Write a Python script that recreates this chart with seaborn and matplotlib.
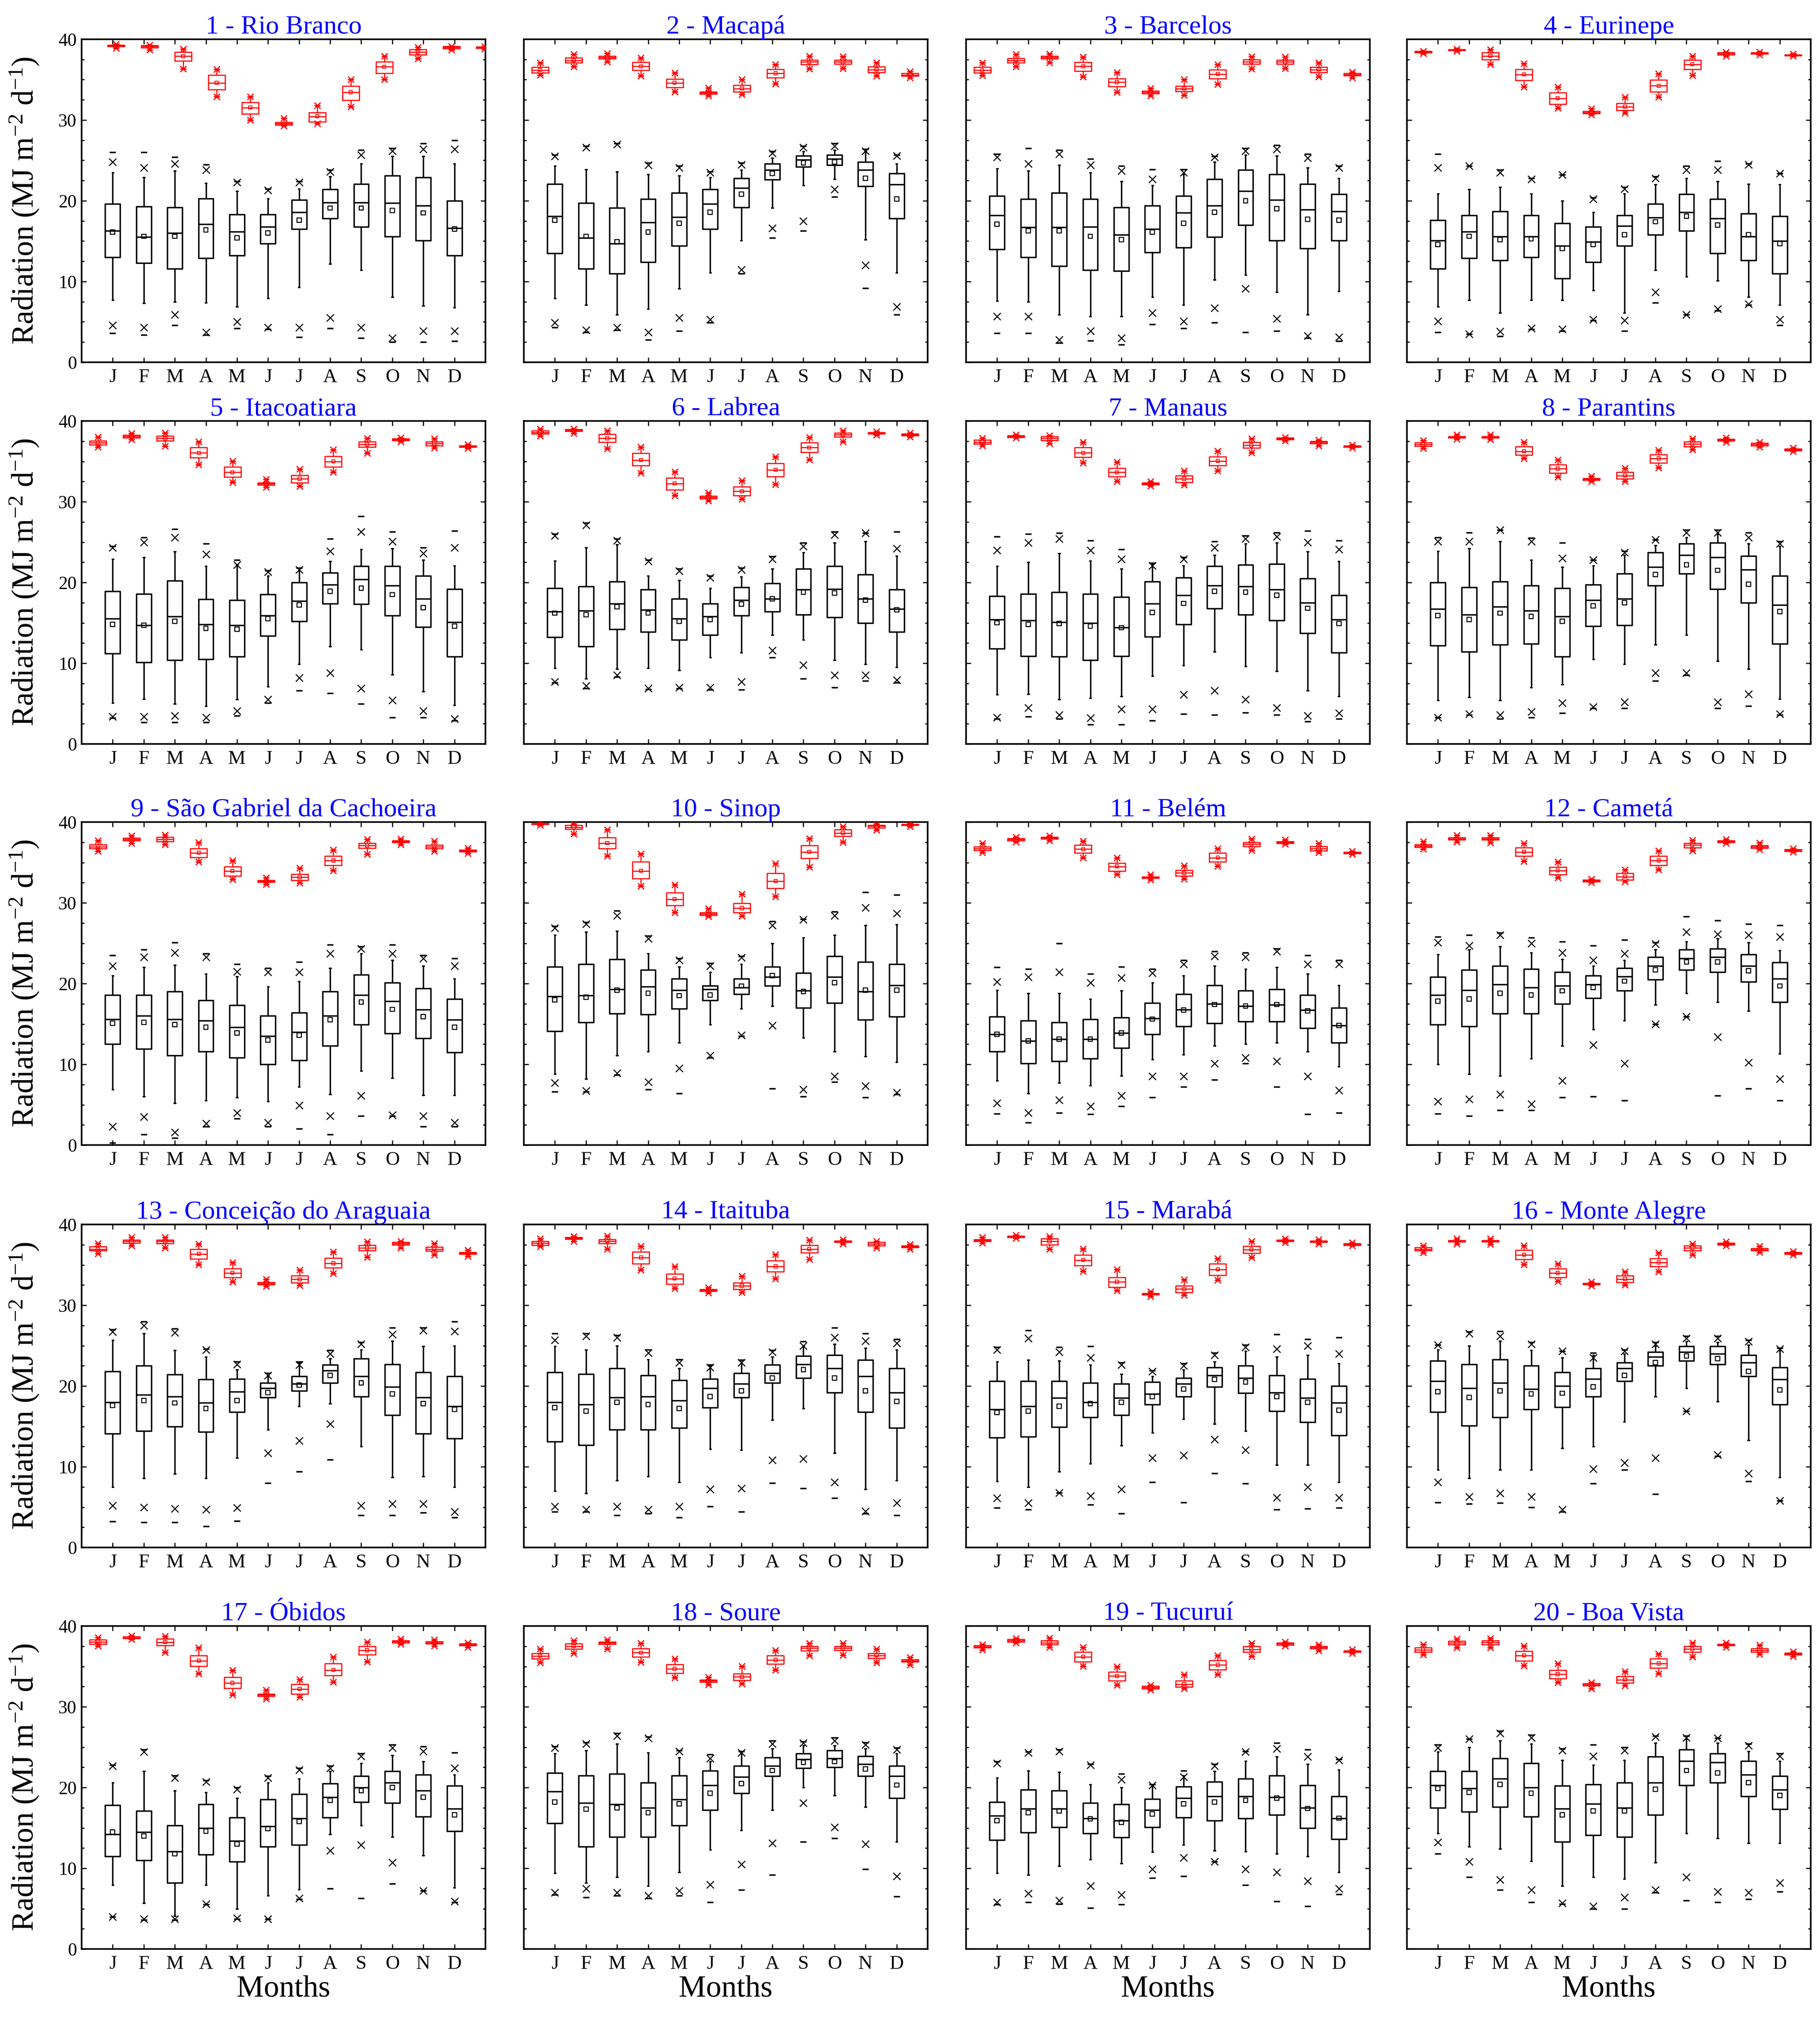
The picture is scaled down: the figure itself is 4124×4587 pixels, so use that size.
import numpy as np
import pandas as pd
import matplotlib
matplotlib.use("Agg")
import matplotlib.pyplot as plt
from matplotlib.ticker import MultipleLocator
import seaborn as sns

MONTHS = ["J", "F", "M", "A", "M", "J", "J", "A", "S", "O", "N", "D"]
MONTH_KEYS = ["m%02d" % i for i in range(12)]

STATIONS = [
    "1 - Rio Branco", "2 - Macapá", "3 - Barcelos", "4 - Eurinepe",
    "5 - Itacoatiara", "6 - Labrea", "7 - Manaus", "8 - Parantins",
    "9 - São Gabriel da Cachoeira", "10 - Sinop", "11 - Belém", "12 - Cametá",
    "13 - Conceição do Araguaia", "14 - Itaituba", "15 - Marabá", "16 - Monte Alegre",
    "17 - Óbidos", "18 - Soure", "19 - Tucuruí", "20 - Boa Vista",
]

# measured global radiation (black boxes), one row per station
BLK_LO = [
    [7.7, 7.3, 7.5, 7.4, 6.9, 7.9, 9.3, 12.2, 11.4, 8.1, 7.0, 6.8],
    [7.9, 7.1, 5.9, 6.6, 9.1, 11.1, 15.1, 19.1, 21.9, 22.7, 15.2, 11.1],
    [7.6, 7.5, 5.9, 5.7, 5.7, 8.1, 7.1, 10.2, 10.8, 8.7, 5.9, 8.8],
    [6.9, 7.7, 6.1, 7.7, 7.7, 8.9, 6.1, 11.4, 10.6, 10.1, 8.1, 7.1],
    [5.1, 5.6, 5.0, 4.7, 5.5, 7.1, 9.9, 12.1, 11.7, 8.6, 6.5, 4.8],
    [9.4, 8.1, 9.3, 9.4, 9.1, 10.7, 11.3, 13.5, 12.9, 10.4, 9.9, 9.5],
    [6.1, 6.2, 5.5, 5.7, 5.9, 8.4, 9.7, 11.4, 9.6, 9.0, 6.6, 5.9],
    [5.4, 5.8, 5.4, 7.0, 7.4, 10.5, 9.9, 12.3, 13.5, 10.3, 9.3, 5.6],
    [6.9, 6.0, 5.2, 5.5, 5.9, 5.4, 7.2, 6.3, 9.2, 8.3, 6.2, 6.2],
    [8.8, 8.2, 11.1, 11.6, 12.7, 14.9, 16.9, 17.2, 13.3, 11.6, 11.0, 10.3],
    [8.0, 6.4, 7.7, 7.4, 8.6, 10.6, 11.2, 12.3, 12.5, 12.7, 11.6, 9.7],
    [10.0, 8.8, 8.6, 10.7, 12.3, 14.3, 15.4, 17.4, 18.8, 17.7, 16.6, 11.3],
    [7.5, 8.6, 9.1, 8.6, 11.1, 14.6, 17.5, 17.8, 12.5, 8.7, 8.8, 7.5],
    [7.0, 6.7, 8.3, 8.8, 8.1, 12.2, 12.1, 15.8, 17.2, 11.7, 7.2, 8.3],
    [8.2, 7.5, 9.4, 10.4, 12.6, 14.2, 15.9, 15.3, 14.4, 10.2, 10.2, 8.1],
    [9.6, 8.6, 9.6, 9.6, 12.3, 12.5, 15.6, 18.7, 19.7, 18.1, 13.3, 8.7],
    [7.9, 5.7, 4.1, 7.9, 5.0, 6.6, 7.4, 14.2, 15.3, 13.9, 11.6, 7.6],
    [9.4, 8.2, 8.9, 7.8, 9.5, 12.3, 14.7, 17.2, 20.0, 19.0, 17.6, 13.3],
    [9.4, 9.2, 10.3, 11.1, 10.6, 12.0, 12.9, 12.2, 12.1, 11.8, 11.5, 9.5],
    [14.3, 12.7, 12.4, 10.9, 7.8, 8.9, 8.7, 10.7, 14.3, 13.7, 13.1, 13.1],
]
BLK_Q1 = [
    [13.0, 12.3, 11.6, 12.9, 13.2, 14.7, 16.5, 17.8, 16.8, 15.6, 15.1, 13.2],
    [13.5, 11.6, 11.0, 12.4, 14.4, 16.5, 19.2, 22.6, 24.2, 24.4, 21.8, 17.8],
    [14.0, 13.0, 11.9, 11.4, 11.3, 13.6, 14.2, 15.5, 17.0, 15.1, 14.1, 15.1],
    [11.6, 12.9, 12.6, 13.0, 10.4, 12.4, 14.4, 15.8, 16.3, 13.5, 12.6, 11.0],
    [11.2, 10.1, 10.4, 10.5, 10.8, 13.4, 15.2, 17.4, 17.3, 15.9, 14.5, 10.8],
    [13.2, 12.1, 14.2, 13.9, 12.9, 13.5, 15.9, 16.4, 16.0, 15.7, 15.0, 13.9],
    [11.8, 10.9, 10.8, 10.4, 10.9, 13.3, 14.8, 16.8, 16.0, 15.3, 13.7, 11.3],
    [12.2, 11.4, 12.3, 12.4, 10.8, 14.6, 14.7, 19.6, 21.1, 19.2, 17.5, 12.4],
    [12.5, 11.9, 11.1, 11.6, 10.8, 10.0, 10.5, 12.3, 14.9, 13.8, 13.2, 11.5],
    [14.1, 15.2, 16.3, 16.2, 16.9, 17.9, 18.7, 19.7, 17.0, 17.6, 15.5, 15.9],
    [11.6, 10.1, 10.4, 10.7, 12.0, 13.7, 14.7, 15.1, 15.3, 15.3, 14.5, 12.7],
    [14.9, 14.7, 16.3, 16.3, 17.5, 18.2, 19.1, 20.5, 21.7, 21.4, 20.2, 17.7],
    [14.1, 14.4, 15.0, 14.3, 16.8, 18.6, 19.4, 20.4, 18.7, 16.4, 14.1, 13.5],
    [13.1, 12.7, 14.6, 14.6, 14.8, 17.3, 18.6, 20.4, 21.0, 19.2, 16.8, 14.8],
    [13.6, 13.7, 14.9, 16.1, 16.4, 17.7, 18.7, 19.9, 19.1, 16.9, 15.5, 13.9],
    [16.8, 15.1, 16.1, 17.1, 17.4, 18.7, 20.6, 22.5, 23.1, 22.7, 21.2, 17.7],
    [11.5, 11.0, 8.2, 11.7, 10.8, 12.7, 12.9, 16.3, 18.2, 18.1, 16.4, 14.6],
    [15.6, 12.7, 13.9, 13.9, 15.3, 17.2, 19.3, 21.4, 22.4, 22.5, 21.4, 18.7],
    [13.5, 14.4, 15.1, 14.3, 13.8, 15.1, 16.3, 15.9, 16.2, 16.6, 15.0, 13.6],
    [17.5, 17.0, 17.6, 16.4, 13.3, 14.1, 13.9, 16.6, 20.3, 20.6, 18.9, 17.3],
]
BLK_MED = [
    [16.3, 15.5, 16.0, 17.1, 16.2, 16.8, 18.6, 19.8, 19.8, 19.7, 19.4, 16.6],
    [18.1, 15.4, 14.7, 17.3, 18.0, 19.6, 21.6, 23.8, 25.1, 25.2, 23.8, 22.0],
    [18.2, 16.7, 16.7, 16.8, 15.8, 16.5, 18.5, 19.4, 21.2, 20.1, 18.9, 18.7],
    [15.1, 16.2, 15.6, 15.6, 14.4, 14.9, 16.9, 17.9, 18.6, 17.8, 15.6, 15.0],
    [15.5, 14.7, 15.8, 14.8, 14.7, 15.9, 17.7, 19.7, 20.4, 19.6, 18.0, 15.1],
    [16.4, 16.5, 17.4, 16.6, 15.5, 15.8, 17.8, 18.0, 19.1, 19.2, 18.0, 16.7],
    [15.4, 15.3, 15.1, 15.0, 14.4, 17.4, 18.4, 19.6, 19.5, 19.1, 17.5, 15.4],
    [16.7, 16.0, 17.0, 16.5, 15.8, 17.8, 18.0, 21.9, 23.4, 23.1, 21.6, 17.2],
    [15.6, 16.0, 15.6, 15.4, 14.6, 13.5, 14.0, 16.0, 18.6, 17.8, 16.8, 15.5],
    [18.4, 18.5, 19.3, 19.6, 19.2, 19.3, 19.5, 20.8, 19.1, 20.8, 19.0, 19.8],
    [13.7, 12.9, 13.1, 13.1, 13.9, 15.7, 16.8, 17.5, 17.2, 17.4, 16.7, 14.8],
    [18.6, 19.2, 19.9, 19.5, 19.7, 19.9, 20.9, 22.2, 23.1, 23.3, 22.2, 20.6],
    [18.0, 18.9, 18.7, 17.9, 19.3, 19.7, 20.3, 21.9, 21.2, 19.9, 18.6, 17.5],
    [18.0, 17.7, 18.6, 18.7, 18.2, 19.7, 20.3, 21.6, 22.7, 22.2, 21.2, 19.2],
    [17.1, 17.5, 18.5, 18.0, 18.5, 19.0, 20.3, 21.3, 21.0, 19.2, 18.5, 17.9],
    [20.6, 19.7, 20.4, 19.6, 20.0, 20.9, 22.2, 23.6, 24.2, 24.0, 22.9, 20.8],
    [14.2, 14.5, 12.1, 15.0, 13.4, 15.2, 16.2, 18.8, 20.0, 20.6, 19.6, 17.4],
    [19.5, 18.1, 17.9, 17.5, 18.5, 20.3, 21.3, 22.7, 23.5, 23.6, 22.9, 21.4],
    [16.5, 17.4, 17.4, 16.2, 15.9, 17.2, 18.7, 18.9, 18.9, 18.8, 17.5, 16.2],
    [20.3, 19.9, 21.1, 20.0, 17.4, 18.0, 17.5, 20.6, 23.3, 23.1, 21.6, 19.7],
]
BLK_Q3 = [
    [19.6, 19.3, 19.2, 20.3, 18.3, 18.3, 20.1, 21.4, 22.1, 23.1, 22.9, 20.0],
    [22.1, 19.7, 19.1, 20.2, 21.0, 21.4, 22.8, 24.6, 25.6, 25.7, 24.8, 23.4],
    [20.6, 20.2, 21.0, 20.2, 19.2, 19.4, 20.6, 22.7, 23.8, 23.3, 22.1, 20.8],
    [17.6, 18.2, 18.7, 18.2, 17.2, 16.8, 18.2, 19.6, 20.8, 20.2, 18.4, 18.1],
    [18.9, 18.6, 20.2, 17.9, 17.8, 18.5, 20.0, 21.2, 22.0, 22.0, 20.8, 19.2],
    [19.3, 19.5, 20.1, 19.1, 18.0, 17.4, 19.4, 19.9, 21.7, 22.0, 21.0, 19.1],
    [18.3, 18.6, 18.8, 18.6, 18.2, 20.1, 20.6, 22.0, 22.2, 22.3, 20.5, 18.4],
    [20.0, 19.4, 20.1, 19.6, 19.3, 19.7, 21.1, 23.7, 24.8, 24.9, 23.3, 20.8],
    [18.6, 18.6, 19.0, 17.9, 17.3, 16.0, 16.4, 19.0, 21.1, 20.1, 19.4, 18.1],
    [22.1, 22.4, 23.0, 21.7, 20.6, 19.7, 20.6, 22.1, 21.3, 23.4, 22.7, 22.4],
    [15.9, 15.4, 15.2, 15.6, 15.8, 17.6, 18.7, 19.8, 19.1, 19.3, 18.6, 17.0],
    [20.8, 21.7, 22.2, 21.8, 21.4, 21.0, 21.9, 23.3, 24.2, 24.3, 23.6, 22.6],
    [21.8, 22.5, 21.4, 20.8, 20.9, 20.4, 21.2, 22.6, 23.4, 22.7, 21.7, 21.2],
    [21.7, 21.5, 22.2, 21.3, 20.7, 20.9, 21.6, 22.6, 23.7, 23.8, 23.2, 22.2],
    [20.6, 20.6, 20.6, 20.4, 20.3, 20.5, 21.0, 22.3, 22.5, 21.3, 20.9, 20.0],
    [23.1, 22.7, 23.3, 22.5, 21.7, 22.2, 22.9, 24.2, 24.9, 24.9, 23.8, 22.3],
    [17.8, 17.1, 15.3, 17.9, 16.3, 18.5, 19.2, 20.5, 21.4, 22.0, 21.6, 20.2],
    [21.8, 21.5, 21.7, 20.6, 21.5, 22.1, 22.7, 23.7, 24.2, 24.6, 23.9, 22.7],
    [18.2, 19.7, 19.6, 18.1, 17.9, 18.6, 20.1, 20.7, 21.1, 21.5, 20.3, 18.9],
    [22.0, 22.0, 23.6, 23.0, 20.2, 20.4, 20.6, 23.8, 24.7, 24.2, 23.3, 21.4],
]
BLK_HI = [
    [23.5, 22.9, 23.7, 22.2, 21.2, 20.3, 21.5, 23.0, 24.6, 25.5, 25.5, 24.6],
    [24.3, 23.9, 23.6, 23.3, 23.1, 22.9, 23.8, 25.3, 26.1, 26.3, 26.1, 24.6],
    [24.0, 23.7, 24.4, 23.5, 22.4, 21.9, 23.3, 24.8, 25.7, 25.6, 24.1, 22.8],
    [20.9, 21.4, 21.7, 20.9, 20.0, 18.6, 20.9, 22.0, 22.8, 22.4, 22.1, 22.0],
    [22.9, 23.1, 23.8, 22.0, 22.2, 20.8, 21.5, 22.6, 24.1, 24.2, 22.8, 22.1],
    [22.7, 24.3, 24.7, 20.8, 20.3, 19.3, 20.7, 21.7, 23.7, 24.9, 25.1, 23.3],
    [22.0, 22.5, 23.6, 22.7, 21.7, 22.4, 22.1, 23.4, 24.8, 24.9, 23.8, 22.6],
    [23.9, 24.2, 25.1, 22.8, 21.9, 22.1, 23.4, 24.6, 25.6, 26.0, 24.8, 24.5],
    [21.0, 22.0, 22.3, 21.2, 20.9, 19.6, 20.3, 21.9, 23.7, 22.9, 22.2, 20.6],
    [26.0, 26.4, 26.5, 23.7, 22.1, 21.4, 22.4, 25.0, 25.7, 26.0, 27.2, 27.3],
    [19.2, 18.8, 18.8, 18.1, 19.1, 20.1, 21.0, 22.2, 21.8, 22.0, 21.2, 19.8],
    [23.6, 24.2, 24.6, 23.8, 23.0, 22.2, 22.9, 24.2, 25.2, 25.6, 25.1, 24.1],
    [25.7, 26.5, 24.4, 23.6, 22.0, 21.3, 22.9, 23.4, 24.5, 25.6, 24.9, 25.0],
    [24.9, 24.5, 25.0, 23.3, 22.2, 22.5, 23.0, 23.6, 25.0, 25.2, 24.7, 24.5],
    [23.0, 23.2, 23.1, 22.6, 21.5, 21.2, 22.0, 23.0, 24.3, 23.6, 23.8, 22.8],
    [24.5, 25.0, 25.6, 24.4, 23.5, 23.8, 24.0, 25.0, 25.5, 25.4, 25.1, 24.4],
    [20.6, 22.0, 19.6, 19.4, 18.7, 20.6, 21.1, 22.0, 23.0, 24.0, 23.2, 21.6],
    [24.2, 24.6, 25.4, 24.3, 23.7, 23.2, 24.3, 24.8, 25.2, 25.2, 24.8, 24.2],
    [21.2, 22.1, 21.9, 20.4, 20.0, 20.2, 21.5, 22.0, 23.3, 23.8, 22.9, 22.2],
    [24.4, 25.0, 25.8, 25.4, 23.4, 22.8, 23.4, 25.5, 26.0, 25.5, 24.5, 23.3],
]
BLK_MEAN = [
    [16.1, 15.6, 15.6, 16.4, 15.4, 16.0, 17.6, 19.1, 19.1, 18.8, 18.5, 16.5],
    [17.6, 15.6, 14.9, 16.1, 17.2, 18.6, 20.8, 23.4, 24.7, 24.8, 22.8, 20.2],
    [17.1, 16.3, 16.3, 15.6, 15.2, 16.1, 17.2, 18.6, 20.0, 19.0, 17.7, 17.6],
    [14.6, 15.6, 15.2, 15.3, 14.1, 14.6, 15.8, 17.4, 18.1, 17.0, 15.8, 14.7],
    [14.8, 14.7, 15.2, 14.3, 14.2, 15.5, 17.2, 18.9, 19.3, 18.5, 16.9, 14.6],
    [16.2, 16.0, 17.0, 16.2, 15.2, 15.4, 17.3, 18.0, 18.8, 18.7, 17.8, 16.6],
    [15.0, 14.8, 14.9, 14.6, 14.4, 16.3, 17.4, 18.9, 18.8, 18.4, 16.8, 14.9],
    [15.9, 15.4, 16.2, 15.8, 15.2, 17.1, 17.5, 21.0, 22.2, 21.5, 19.8, 16.4],
    [15.1, 15.2, 14.9, 14.6, 13.9, 13.0, 13.6, 15.5, 17.7, 16.8, 15.9, 14.6],
    [18.0, 18.3, 19.2, 18.8, 18.5, 18.6, 19.7, 21.0, 19.0, 20.1, 19.2, 19.2],
    [13.7, 12.9, 13.1, 13.1, 13.9, 15.6, 16.7, 17.4, 17.2, 17.4, 16.6, 14.8],
    [17.8, 18.1, 18.8, 18.6, 19.1, 19.5, 20.3, 21.7, 22.7, 22.7, 21.6, 19.7],
    [17.6, 18.2, 17.9, 17.2, 18.2, 19.2, 20.1, 21.3, 20.4, 19.0, 17.8, 17.1],
    [17.3, 16.9, 18.0, 17.7, 17.2, 18.7, 19.4, 21.0, 22.0, 21.0, 19.4, 18.1],
    [16.7, 16.9, 17.5, 17.8, 18.0, 18.7, 19.6, 20.8, 20.5, 18.7, 18.0, 17.0],
    [19.3, 18.6, 19.4, 19.0, 19.1, 19.9, 21.3, 22.9, 23.7, 23.4, 21.8, 19.5],
    [14.5, 14.0, 11.8, 14.6, 13.0, 14.9, 15.8, 18.4, 19.6, 20.0, 18.8, 16.6],
    [18.2, 17.3, 17.5, 16.9, 18.0, 19.3, 20.5, 22.1, 23.1, 23.2, 22.3, 20.3],
    [15.9, 16.9, 17.1, 16.1, 15.7, 16.7, 18.0, 18.2, 18.4, 18.7, 17.4, 16.2],
    [19.9, 19.4, 20.4, 19.3, 16.6, 17.1, 17.1, 19.8, 22.1, 21.8, 20.6, 19.0],
]
BLK_P1 = [
    [4.6, 4.3, 5.9, 3.7, 5.0, 4.3, 4.3, 5.5, 4.3, 3.0, 3.9, 3.9],
    [4.9, 4.0, 4.3, 3.7, 5.5, 5.3, 11.5, 16.6, 17.5, 21.4, 12.0, 6.9],
    [5.7, 5.7, 2.8, 3.9, 3.0, 6.1, 5.1, 6.7, 9.1, 5.4, 3.3, 3.1],
    [5.1, 3.5, 3.8, 4.2, 4.1, 5.3, 5.2, 8.7, 5.9, 6.6, 7.2, 5.3],
    [3.4, 3.4, 3.5, 3.3, 4.1, 5.5, 8.2, 8.8, 6.9, 5.4, 4.1, 3.1],
    [7.7, 7.2, 8.5, 6.9, 7.0, 7.0, 7.7, 11.6, 9.8, 8.5, 8.5, 7.9],
    [3.3, 4.5, 3.6, 3.2, 4.3, 4.3, 6.1, 6.6, 5.5, 4.5, 3.5, 3.8],
    [3.3, 3.7, 3.6, 4.0, 5.1, 4.6, 5.2, 8.8, 8.8, 5.2, 6.2, 3.7],
    [2.3, 3.5, 1.6, 2.7, 4.0, 2.8, 4.9, 3.6, 6.1, 3.7, 3.6, 2.8],
    [7.7, 6.7, 8.9, 7.8, 9.5, 11.1, 13.6, 14.8, 6.9, 8.5, 7.3, 6.5],
    [5.2, 4.0, 5.6, 4.8, 6.1, 8.5, 8.5, 10.1, 10.8, 10.4, 8.5, 6.8],
    [5.4, 5.7, 6.3, 5.1, 8.0, 12.4, 10.1, 15.0, 15.9, 13.4, 10.2, 8.2],
    [5.2, 5.0, 4.8, 4.7, 4.9, 11.7, 13.2, 15.3, 5.2, 5.4, 5.4, 4.4],
    [5.1, 4.7, 5.1, 4.7, 5.1, 7.2, 7.3, 10.8, 11.0, 8.1, 4.5, 5.5],
    [6.1, 5.5, 6.8, 6.4, 7.2, 11.1, 11.4, 13.4, 12.1, 6.2, 7.5, 6.2],
    [8.1, 6.3, 6.7, 6.3, 4.7, 9.7, 10.5, 11.1, 16.9, 11.5, 9.2, 5.8],
    [4.0, 3.7, 3.7, 5.6, 3.8, 3.7, 6.3, 12.2, 12.9, 10.7, 7.2, 5.9],
    [7.0, 7.5, 7.0, 6.6, 7.2, 8.0, 10.5, 13.1, 18.1, 15.1, 13.0, 9.0],
    [5.8, 6.9, 6.0, 7.8, 6.7, 9.9, 11.3, 10.8, 9.9, 9.5, 8.4, 7.5],
    [13.2, 10.8, 8.6, 7.3, 5.7, 5.3, 6.4, 7.3, 8.9, 7.1, 7.0, 8.2],
]
BLK_P99 = [
    [24.8, 24.1, 24.6, 23.8, 22.3, 21.3, 22.3, 23.6, 25.7, 26.2, 26.4, 26.4],
    [25.5, 26.6, 27.0, 24.4, 24.1, 23.5, 24.5, 25.9, 26.6, 26.8, 26.2, 25.6],
    [25.4, 24.6, 25.8, 24.4, 23.7, 22.7, 23.5, 25.4, 26.2, 26.4, 25.3, 24.1],
    [24.1, 24.3, 23.5, 22.7, 23.2, 20.2, 21.5, 22.8, 23.8, 23.8, 24.5, 23.4],
    [24.3, 25.0, 25.6, 23.5, 22.2, 21.3, 21.6, 23.9, 26.3, 25.1, 23.6, 24.3],
    [25.8, 27.1, 25.2, 22.6, 21.4, 20.6, 21.6, 22.9, 24.5, 25.9, 26.1, 24.2],
    [24.0, 24.9, 25.4, 24.0, 22.9, 22.1, 22.9, 24.3, 25.4, 25.7, 25.0, 24.1],
    [25.1, 25.1, 26.5, 25.1, 23.0, 22.8, 23.7, 25.3, 26.2, 26.2, 25.6, 24.8],
    [22.2, 23.3, 23.8, 23.3, 21.5, 21.4, 21.4, 23.7, 24.3, 23.7, 23.1, 22.2],
    [26.9, 27.4, 28.4, 25.6, 22.9, 22.2, 23.2, 27.2, 27.9, 28.4, 29.4, 28.7],
    [20.2, 20.8, 21.4, 20.1, 20.7, 21.3, 22.4, 23.4, 23.3, 24.0, 22.4, 22.4],
    [25.1, 24.7, 26.0, 25.0, 23.8, 22.9, 23.7, 24.9, 26.4, 26.1, 26.0, 25.8],
    [26.7, 27.5, 26.6, 24.5, 22.7, 21.3, 22.6, 24.0, 25.2, 26.4, 26.9, 26.8],
    [25.7, 26.2, 26.0, 24.1, 22.9, 22.3, 22.9, 24.2, 25.0, 26.0, 25.6, 25.3],
    [24.5, 25.9, 24.2, 23.5, 22.6, 21.8, 22.5, 23.8, 24.8, 24.6, 25.0, 24.0],
    [25.1, 26.5, 26.2, 25.2, 24.3, 23.5, 24.3, 25.2, 25.9, 25.9, 25.5, 24.6],
    [22.7, 24.4, 21.2, 20.7, 19.8, 21.2, 22.2, 22.4, 23.9, 24.9, 24.5, 22.4],
    [24.9, 25.4, 26.4, 26.1, 24.5, 23.6, 24.3, 25.4, 25.5, 25.8, 25.3, 24.7],
    [23.0, 24.3, 24.5, 22.8, 21.0, 20.3, 21.3, 22.7, 24.4, 24.8, 23.8, 23.4],
    [24.9, 26.0, 26.7, 26.2, 24.6, 23.9, 24.6, 26.3, 26.2, 26.1, 25.2, 23.9],
]
BLK_MIN = [
    [3.6, 3.4, 4.6, 3.4, 4.2, 4.1, 3.1, 4.2, 3.0, 2.5, 2.5, 2.6],
    [4.3, 3.7, 4.0, 2.8, 3.9, 4.9, 11.0, 15.4, 16.3, 20.5, 9.2, 5.9],
    [3.6, 3.6, 2.4, 2.7, 2.2, 4.7, 4.2, 4.9, 3.7, 3.9, 3.0, 2.6],
    [3.7, 3.5, 3.2, 4.1, 3.9, 5.2, 3.9, 7.4, 5.9, 6.4, 7.1, 4.6],
    [3.2, 2.7, 2.7, 2.7, 3.5, 5.1, 6.6, 6.3, 5.0, 3.3, 3.3, 2.9],
    [7.6, 6.9, 8.3, 6.8, 6.9, 6.7, 6.7, 10.7, 8.1, 7.0, 7.8, 7.6],
    [3.1, 3.4, 3.1, 2.4, 2.4, 2.9, 3.7, 3.6, 3.9, 3.6, 2.8, 3.1],
    [3.3, 3.6, 3.1, 3.3, 3.8, 4.4, 4.4, 7.8, 8.5, 4.4, 4.7, 3.6],
    [0.3, 1.3, 0.9, 2.3, 3.3, 2.3, 2.0, 1.3, 3.6, 3.6, 2.3, 2.3],
    [6.6, 6.6, 8.7, 6.9, 6.4, 10.8, 13.5, 7.0, 6.0, 7.8, 5.9, 6.3],
    [3.9, 2.8, 4.0, 3.8, 4.8, 5.9, 7.2, 8.1, 10.1, 7.2, 3.8, 4.0],
    [3.9, 3.6, 4.3, 4.3, 5.9, 6.0, 5.5, 15.0, 15.9, 6.1, 7.0, 5.5],
    [3.2, 3.1, 3.1, 2.6, 3.3, 8.0, 9.4, 10.9, 4.0, 4.0, 4.3, 3.7],
    [4.4, 4.4, 4.0, 4.2, 3.7, 5.1, 4.4, 8.0, 7.3, 6.1, 4.2, 4.0],
    [4.9, 4.7, 6.8, 5.3, 4.2, 8.1, 5.6, 9.2, 7.9, 4.7, 4.8, 4.9],
    [5.6, 5.4, 5.5, 5.0, 4.4, 7.9, 9.6, 6.6, 16.9, 11.3, 8.2, 5.8],
    [4.0, 3.6, 3.6, 5.5, 3.7, 3.7, 6.2, 7.5, 6.3, 8.1, 7.2, 5.8],
    [6.7, 6.4, 6.6, 6.3, 6.6, 5.8, 7.3, 9.2, 13.3, 13.7, 9.9, 6.5],
    [5.5, 5.8, 5.6, 5.1, 5.5, 8.8, 9.0, 10.8, 7.9, 5.9, 5.3, 6.8],
    [11.8, 8.9, 7.3, 5.8, 5.6, 5.0, 5.0, 7.0, 6.0, 5.8, 6.2, 7.1],
]
BLK_MAX = [
    [26.0, 26.0, 25.4, 24.5, 22.4, 21.5, 22.4, 23.8, 26.3, 26.5, 27.1, 27.5],
    [25.7, 26.8, 27.1, 24.7, 24.3, 23.6, 24.7, 26.1, 26.8, 27.1, 26.4, 25.7],
    [25.8, 26.5, 26.3, 25.2, 24.3, 23.9, 23.9, 25.5, 26.5, 26.9, 25.8, 24.3],
    [25.8, 24.3, 23.8, 22.8, 23.2, 20.4, 21.7, 23.0, 24.3, 24.9, 24.6, 23.4],
    [24.5, 25.6, 26.6, 24.8, 22.8, 21.5, 21.8, 25.4, 28.2, 26.3, 24.3, 26.4],
    [26.0, 27.4, 25.4, 22.8, 21.7, 20.8, 21.8, 23.2, 24.9, 26.3, 26.1, 26.3],
    [25.7, 26.0, 26.1, 25.2, 24.1, 22.4, 23.1, 25.1, 25.8, 26.2, 26.4, 25.2],
    [25.6, 26.2, 26.5, 25.5, 24.9, 22.8, 23.9, 25.3, 26.5, 26.5, 26.2, 25.1],
    [23.5, 24.2, 25.1, 23.7, 22.4, 21.9, 22.7, 24.8, 24.6, 24.8, 23.5, 23.1],
    [27.1, 27.6, 29.0, 25.9, 23.1, 22.5, 23.4, 27.7, 28.0, 28.9, 31.3, 31.0],
    [22.0, 21.8, 25.0, 21.2, 22.1, 21.8, 22.9, 24.0, 23.8, 24.3, 23.5, 22.9],
    [25.8, 26.0, 26.3, 25.7, 25.2, 24.7, 25.4, 25.1, 28.3, 27.8, 27.4, 27.2],
    [27.0, 28.0, 27.1, 24.6, 23.0, 21.6, 23.0, 24.4, 25.4, 27.2, 27.2, 28.0],
    [26.5, 26.5, 26.3, 24.5, 23.3, 22.6, 23.2, 24.4, 25.5, 27.2, 26.5, 25.8],
    [24.8, 26.9, 24.8, 24.9, 22.9, 21.9, 22.8, 24.1, 25.1, 26.4, 25.8, 26.0],
    [25.1, 26.7, 26.8, 25.4, 24.3, 24.1, 24.5, 25.4, 26.2, 26.2, 25.7, 24.7],
    [22.8, 24.7, 21.5, 20.9, 20.0, 21.4, 22.4, 22.7, 24.2, 25.3, 25.1, 24.3],
    [25.1, 25.6, 26.7, 26.3, 24.6, 24.1, 24.5, 25.8, 25.7, 26.2, 25.6, 24.9],
    [23.2, 24.4, 24.7, 22.9, 21.7, 20.4, 22.1, 22.9, 24.5, 25.5, 24.7, 23.5],
    [25.3, 26.0, 27.0, 26.5, 24.8, 25.3, 25.0, 26.4, 26.4, 26.1, 25.4, 24.2],
]

# extraterrestrial radiation (red boxes), one row per station
RED_LO = [
    [38.9, 38.7, 36.35, 32.9, 30.0, 29.3, 29.55, 31.65, 35.05, 37.6, 38.7, 38.8],
    [35.55, 36.6, 37.2, 35.45, 33.5, 33.0, 33.15, 34.5, 36.35, 36.4, 35.45, 35.25],
    [35.5, 36.6, 37.1, 35.35, 33.45, 33.0, 33.05, 34.4, 36.35, 36.4, 35.35, 35.25],
    [38.25, 38.55, 36.9, 34.1, 31.45, 30.65, 30.85, 32.85, 35.5, 37.9, 38.1, 37.9],
    [36.8, 37.7, 36.9, 34.6, 32.4, 31.8, 31.9, 33.65, 36.0, 37.45, 36.65, 36.6],
    [38.15, 38.45, 36.55, 33.55, 30.75, 30.1, 30.35, 32.15, 35.2, 37.45, 38.25, 38.05],
    [36.95, 37.9, 37.2, 34.8, 32.5, 31.95, 32.1, 33.85, 36.05, 37.55, 36.95, 36.65],
    [36.6, 37.75, 37.7, 35.35, 33.05, 32.5, 32.5, 34.2, 36.45, 37.4, 36.8, 36.25],
    [36.4, 37.35, 37.2, 35.1, 32.9, 32.3, 32.45, 34.0, 36.0, 37.2, 36.4, 36.1],
    [39.6, 38.55, 35.8, 32.05, 28.8, 28.3, 28.35, 30.75, 34.45, 37.5, 39.0, 39.45],
    [36.25, 37.55, 37.7, 35.6, 33.5, 32.85, 32.95, 34.55, 36.5, 37.25, 36.25, 36.0],
    [36.65, 37.55, 37.45, 35.15, 33.1, 32.5, 32.6, 34.1, 36.45, 37.35, 36.6, 36.3],
    [36.4, 37.4, 37.1, 35.05, 32.9, 32.35, 32.45, 33.95, 35.95, 37.1, 36.25, 36.05],
    [37.25, 37.95, 36.95, 34.35, 32.1, 31.55, 31.6, 33.3, 35.7, 37.6, 37.1, 36.95],
    [37.7, 38.3, 36.95, 34.2, 31.8, 31.1, 31.25, 33.1, 35.9, 37.75, 37.6, 37.35],
    [36.5, 37.6, 37.55, 35.05, 32.95, 32.4, 32.5, 34.15, 36.25, 37.35, 36.55, 36.25],
    [37.55, 38.35, 36.7, 34.1, 31.5, 31.0, 31.2, 33.05, 35.55, 37.75, 37.55, 37.4],
    [35.45, 36.6, 37.15, 35.5, 33.6, 32.75, 32.85, 34.55, 36.35, 36.4, 35.45, 35.2],
    [37.05, 37.95, 37.4, 35.05, 32.7, 32.1, 32.25, 34.0, 36.25, 37.55, 36.95, 36.6],
    [36.45, 37.3, 37.3, 35.1, 33.0, 32.25, 32.6, 34.1, 36.15, 37.35, 36.5, 36.25],
]
RED_Q1 = [
    [39.1, 38.95, 37.3, 33.75, 30.75, 29.4, 29.8, 32.45, 35.8, 38.1, 38.85, 38.9],
    [35.85, 37.1, 37.6, 36.15, 34.05, 33.25, 33.5, 35.25, 36.9, 36.95, 35.9, 35.45],
    [35.85, 37.1, 37.6, 36.05, 34.15, 33.3, 33.55, 35.15, 36.95, 36.95, 35.9, 35.5],
    [38.35, 38.65, 37.5, 34.9, 31.95, 30.8, 31.2, 33.5, 36.3, 38.1, 38.2, 38.0],
    [37.05, 37.9, 37.55, 35.45, 33.05, 32.1, 32.35, 34.3, 36.8, 37.6, 36.95, 36.75],
    [38.4, 38.75, 37.35, 34.5, 31.5, 30.4, 30.75, 33.1, 36.1, 38.05, 38.4, 38.2],
    [37.15, 38.0, 37.6, 35.5, 33.1, 32.15, 32.4, 34.5, 36.65, 37.7, 37.2, 36.75],
    [36.9, 37.9, 37.9, 35.8, 33.55, 32.7, 32.85, 34.8, 36.85, 37.55, 36.95, 36.35],
    [36.7, 37.7, 37.6, 35.65, 33.35, 32.55, 32.8, 34.65, 36.8, 37.5, 36.7, 36.35],
    [39.75, 39.1, 36.7, 33.0, 29.65, 28.45, 28.8, 31.8, 35.5, 38.25, 39.3, 39.6],
    [36.5, 37.7, 37.95, 36.15, 33.95, 33.05, 33.35, 35.1, 37.0, 37.4, 36.45, 36.1],
    [36.9, 37.8, 37.8, 35.8, 33.5, 32.65, 32.85, 34.65, 36.85, 37.5, 36.8, 36.4],
    [36.75, 37.7, 37.65, 35.75, 33.45, 32.55, 32.8, 34.65, 36.75, 37.5, 36.7, 36.35],
    [37.45, 38.2, 37.65, 35.15, 32.65, 31.75, 31.95, 34.15, 36.5, 37.8, 37.4, 37.15],
    [37.95, 38.4, 37.5, 34.9, 32.25, 31.3, 31.6, 33.7, 36.45, 37.9, 37.8, 37.45],
    [36.75, 37.85, 37.85, 35.7, 33.45, 32.55, 32.85, 34.8, 36.8, 37.5, 36.75, 36.35],
    [37.75, 38.45, 37.6, 35.05, 32.3, 31.3, 31.6, 33.9, 36.45, 37.95, 37.8, 37.6],
    [35.95, 37.15, 37.75, 36.2, 34.15, 33.05, 33.3, 35.3, 36.95, 37.0, 36.0, 35.55],
    [37.3, 38.05, 37.7, 35.6, 33.2, 32.25, 32.45, 34.6, 36.75, 37.65, 37.2, 36.75],
    [36.75, 37.7, 37.7, 35.7, 33.5, 32.6, 32.95, 34.8, 36.75, 37.6, 36.75, 36.45],
]
RED_MED = [
    [39.2, 39.1, 37.9, 34.6, 31.55, 29.55, 30.45, 33.45, 36.6, 38.4, 39.0, 39.0],
    [36.2, 37.4, 37.75, 36.65, 34.6, 33.4, 33.9, 35.8, 37.2, 37.2, 36.25, 35.6],
    [36.15, 37.4, 37.75, 36.65, 34.7, 33.45, 33.9, 35.7, 37.2, 37.2, 36.25, 35.65],
    [38.45, 38.7, 37.95, 35.65, 32.7, 30.95, 31.65, 34.25, 36.9, 38.25, 38.3, 38.05],
    [37.3, 38.1, 37.85, 36.05, 33.65, 32.25, 32.85, 35.0, 37.1, 37.7, 37.2, 36.85],
    [38.6, 38.85, 37.85, 35.15, 32.25, 30.55, 31.3, 33.95, 36.7, 38.3, 38.5, 38.3],
    [37.4, 38.1, 37.85, 36.05, 33.65, 32.25, 32.85, 35.05, 37.0, 37.8, 37.35, 36.85],
    [37.1, 38.0, 38.0, 36.25, 34.1, 32.8, 33.25, 35.35, 37.15, 37.65, 37.1, 36.45],
    [36.95, 37.85, 37.85, 36.2, 33.95, 32.7, 33.15, 35.25, 37.1, 37.6, 36.95, 36.45],
    [39.8, 39.35, 37.4, 33.95, 30.45, 28.65, 29.35, 32.7, 36.3, 38.65, 39.5, 39.7],
    [36.7, 37.85, 38.05, 36.65, 34.5, 33.15, 33.7, 35.6, 37.25, 37.5, 36.7, 36.2],
    [37.05, 37.95, 37.95, 36.3, 34.0, 32.75, 33.25, 35.25, 37.15, 37.6, 36.95, 36.5],
    [36.95, 37.9, 37.9, 36.35, 34.0, 32.7, 33.2, 35.2, 37.1, 37.65, 36.95, 36.45],
    [37.7, 38.3, 37.95, 35.9, 33.3, 31.85, 32.4, 34.8, 36.95, 37.9, 37.6, 37.25],
    [38.05, 38.5, 37.9, 35.6, 32.9, 31.4, 32.0, 34.45, 36.9, 38.0, 37.9, 37.55],
    [36.95, 37.95, 37.95, 36.25, 34.0, 32.65, 33.25, 35.3, 37.1, 37.6, 36.9, 36.45],
    [38.05, 38.55, 38.0, 35.7, 32.95, 31.45, 32.2, 34.55, 37.0, 38.1, 37.95, 37.7],
    [36.3, 37.5, 37.9, 36.7, 34.7, 33.2, 33.7, 35.8, 37.25, 37.25, 36.35, 35.7],
    [37.45, 38.2, 37.95, 36.2, 33.8, 32.4, 32.8, 35.2, 37.1, 37.8, 37.35, 36.85],
    [37.05, 37.9, 38.0, 36.35, 34.05, 32.75, 33.35, 35.35, 37.15, 37.7, 37.0, 36.55],
]
RED_Q3 = [
    [39.3, 39.25, 38.4, 35.55, 32.2, 29.7, 30.95, 34.2, 37.2, 38.75, 39.1, 39.05],
    [36.55, 37.7, 37.9, 37.15, 35.1, 33.5, 34.3, 36.3, 37.45, 37.45, 36.6, 35.8],
    [36.55, 37.65, 37.9, 37.15, 35.15, 33.6, 34.2, 36.25, 37.5, 37.45, 36.55, 35.8],
    [38.5, 38.75, 38.35, 36.3, 33.4, 31.1, 32.1, 34.95, 37.45, 38.35, 38.35, 38.1],
    [37.55, 38.25, 38.15, 36.7, 34.3, 32.35, 33.3, 35.65, 37.45, 37.8, 37.45, 36.95],
    [38.8, 38.95, 38.35, 36.0, 32.95, 30.7, 31.85, 34.75, 37.3, 38.5, 38.6, 38.4],
    [37.65, 38.2, 38.1, 36.7, 34.15, 32.35, 33.2, 35.6, 37.4, 37.9, 37.5, 36.95],
    [37.3, 38.1, 38.1, 36.85, 34.6, 32.9, 33.65, 35.85, 37.45, 37.75, 37.25, 36.55],
    [37.2, 38.05, 38.15, 36.7, 34.5, 32.8, 33.55, 35.8, 37.4, 37.7, 37.15, 36.55],
    [39.85, 39.6, 38.1, 35.1, 31.25, 28.8, 29.95, 33.65, 37.1, 39.05, 39.6, 39.75],
    [36.95, 38.0, 38.15, 37.15, 34.9, 33.25, 34.05, 36.15, 37.5, 37.6, 37.0, 36.3],
    [37.2, 38.1, 38.1, 36.85, 34.45, 32.85, 33.65, 35.8, 37.4, 37.7, 37.1, 36.6],
    [37.25, 38.1, 38.1, 36.95, 34.55, 32.85, 33.65, 35.85, 37.45, 37.8, 37.2, 36.55],
    [37.9, 38.4, 38.15, 36.6, 33.9, 31.95, 32.8, 35.5, 37.45, 38.0, 37.8, 37.35],
    [38.15, 38.6, 38.25, 36.25, 33.45, 31.5, 32.4, 35.15, 37.3, 38.1, 38.0, 37.65],
    [37.15, 38.05, 38.05, 36.85, 34.55, 32.75, 33.65, 35.8, 37.4, 37.7, 37.05, 36.55],
    [38.3, 38.7, 38.4, 36.35, 33.65, 31.6, 32.8, 35.35, 37.5, 38.2, 38.1, 37.8],
    [36.6, 37.8, 38.05, 37.2, 35.25, 33.35, 34.1, 36.35, 37.5, 37.5, 36.6, 35.85],
    [37.6, 38.35, 38.2, 36.75, 34.3, 32.55, 33.25, 35.75, 37.5, 37.95, 37.5, 36.95],
    [37.3, 38.15, 38.2, 36.9, 34.55, 32.9, 33.75, 35.95, 37.5, 37.75, 37.2, 36.65],
]
RED_HI = [
    [39.4, 39.3, 38.8, 36.3, 32.9, 30.2, 31.8, 35.0, 37.9, 39.0, 39.1, 39.1],
    [37.1, 38.15, 38.25, 37.7, 35.85, 34.0, 35.0, 36.9, 37.9, 37.85, 37.1, 36.0],
    [37.1, 38.15, 38.2, 37.8, 35.9, 33.95, 35.0, 36.9, 37.85, 37.8, 37.1, 35.95],
    [38.55, 38.8, 38.75, 37.0, 34.1, 31.4, 32.85, 35.75, 37.95, 38.4, 38.4, 38.2],
    [38.05, 38.45, 38.55, 37.45, 35.05, 32.8, 34.05, 36.45, 37.85, 37.95, 37.8, 37.1],
    [39.0, 39.0, 38.8, 36.8, 33.7, 31.1, 32.6, 35.6, 38.0, 38.8, 38.7, 38.55],
    [37.85, 38.3, 38.2, 37.35, 34.9, 32.5, 33.85, 36.3, 37.8, 38.0, 37.65, 37.05],
    [37.6, 38.3, 38.3, 37.4, 35.2, 33.15, 34.15, 36.4, 37.8, 37.9, 37.4, 36.65],
    [37.7, 38.3, 38.4, 37.5, 35.25, 33.1, 34.3, 36.55, 37.85, 37.95, 37.65, 36.75],
    [39.9, 39.8, 39.05, 36.05, 32.25, 29.3, 31.1, 34.85, 38.0, 39.45, 39.8, 39.85],
    [37.35, 38.15, 38.3, 37.65, 35.55, 33.5, 34.6, 36.7, 37.9, 37.8, 37.35, 36.4],
    [37.6, 38.35, 38.35, 37.4, 35.1, 32.95, 34.1, 36.45, 37.75, 37.85, 37.45, 36.7],
    [37.65, 38.4, 38.4, 37.6, 35.3, 33.2, 34.35, 36.6, 37.85, 37.95, 37.65, 36.85],
    [38.25, 38.55, 38.6, 37.3, 34.8, 32.2, 33.6, 36.3, 38.1, 38.15, 37.95, 37.55],
    [38.4, 38.7, 38.55, 37.0, 34.4, 31.7, 33.15, 35.8, 37.9, 38.25, 38.15, 37.75],
    [37.4, 38.25, 38.25, 37.4, 35.15, 32.9, 34.15, 36.5, 37.6, 37.85, 37.3, 36.65],
    [38.6, 38.8, 38.75, 37.3, 34.55, 32.05, 33.4, 36.15, 38.05, 38.4, 38.3, 37.9],
    [37.15, 38.2, 38.3, 37.85, 35.95, 33.65, 35.05, 37.0, 37.85, 37.85, 37.15, 36.1],
    [37.7, 38.45, 38.5, 37.35, 34.95, 32.7, 34.0, 36.35, 37.85, 38.05, 37.7, 37.1],
    [37.7, 38.4, 38.45, 37.55, 35.35, 33.0, 34.35, 36.55, 37.95, 37.95, 37.65, 36.85],
]

sns.set_style("ticks", {"axes.edgecolor": "black", "xtick.color": "black",
                        "ytick.color": "black", "text.color": "black",
                        "axes.labelcolor": "black"})
plt.rcParams["font.family"] = ["Liberation Serif", "DejaVu Serif"]
plt.rcParams["mathtext.fontset"] = "custom"
plt.rcParams["mathtext.rm"] = "Liberation Serif"
plt.rcParams["mathtext.it"] = "Liberation Serif:italic"

W, H = 4124, 4587
fig = plt.figure(figsize=(W / 100, H / 100), dpi=100)
fig.patch.set_facecolor("white")

COL_LEFT = [185, 1187, 2189, 3188]
ROW_TOP = [89, 954, 1863, 2775, 3685]
AX_W, AX_H = 915, 732


def long_frame(lo, q1, med, q3, hi):
    rows = []
    for key, a, b, c, d, e in zip(MONTH_KEYS, lo, q1, med, q3, hi):
        for v in (a, b, c, d, e):
            rows.append({"month": key, "rad": v})
    return pd.DataFrame(rows)


def draw_boxes(ax, frame, color, lw, width):
    sns.boxplot(data=frame, x="month", y="rad", order=MONTH_KEYS, whis=(0, 100),
                width=width, fill=False, color=color, linewidth=lw, saturation=1,
                showfliers=False, capwidths=0.05, ax=ax)


pos = np.arange(12)
for k, name in enumerate(STATIONS):
    r, c = divmod(k, 4)
    ax = fig.add_axes([COL_LEFT[c] / W, 1 - (ROW_TOP[r] + AX_H) / H, AX_W / W, AX_H / H])
    ax2 = ax.twiny()

    # black boxes: measured radiation
    draw_boxes(ax, long_frame(BLK_LO[k], BLK_Q1[k], BLK_MED[k], BLK_Q3[k], BLK_HI[k]),
               "black", 2.4, 0.48)
    ax.scatter(pos, BLK_MEAN[k], marker="s", s=50, facecolors="none",
               edgecolors="black", linewidths=1.7, zorder=5)
    ax.scatter(pos, BLK_P1[k], marker="x", s=140, color="black", linewidths=1.7, zorder=5)
    ax.scatter(pos, BLK_P99[k], marker="x", s=140, color="black", linewidths=1.7, zorder=5)
    ax.scatter(pos, BLK_MIN[k], marker="_", s=90, color="black", linewidths=2.5, zorder=5)
    ax.scatter(pos, BLK_MAX[k], marker="_", s=90, color="black", linewidths=2.5, zorder=5)

    # red boxes: extraterrestrial radiation
    draw_boxes(ax2, long_frame(RED_LO[k], RED_Q1[k], RED_MED[k], RED_Q3[k], RED_HI[k]),
               "red", 1.8, 0.5)
    ax2.scatter(pos, RED_MED[k], marker="s", s=28, facecolors="none",
                edgecolors="red", linewidths=1.3, zorder=5)
    for arr in (RED_LO[k], RED_HI[k]):
        ax2.scatter(pos, arr, marker="x", s=100, color="red", linewidths=1.9, zorder=5)
        ax2.scatter(pos, arr, marker="_", s=100, color="red", linewidths=2.3, zorder=5)
    if k == 0:
        ax2.set_xlim(-1.03, 11.02)
    else:
        ax2.set_xlim(-0.48, 11.52)
    ax2.set_xticks([])
    ax2.set_xlabel("")
    for sp in ax2.spines.values():
        sp.set_visible(False)

    ax.set_xlim(-1, 12)
    ax.set_xticks(pos)
    ax.set_xticklabels(MONTHS)
    ax.set_ylim(0, 40)
    ax.set_yticks([0, 10, 20, 30, 40])
    ax.yaxis.set_minor_locator(MultipleLocator(2.5))
    ax.tick_params(axis="both", which="both", direction="in", top=True, bottom=True,
                   left=True, right=True, width=1.8)
    ax.tick_params(which="major", length=8)
    ax.tick_params(which="minor", length=4)
    ax.tick_params(axis="x", labelsize=32, pad=10)
    ax.tick_params(axis="y", labelsize=30, pad=8, labelleft=(c == 0))
    for sp in ax.spines.values():
        sp.set_linewidth(2.6)

    ax.set_title(name, color="blue", fontsize=43, pad=8)

    if c == 0:
        ax.set_ylabel("Radiation (MJ m$^{-2}$ d$^{-1}$)", fontsize=50)
        ax.yaxis.set_label_coords(-0.1, 0.5)
    else:
        ax.set_ylabel("")
    if r == 4:
        ax.set_xlabel("Months", fontsize=50)
        ax.xaxis.set_label_coords(0.5, -0.082)
    else:
        ax.set_xlabel("")

fig.savefig("out.png", dpi=100, facecolor="white")
